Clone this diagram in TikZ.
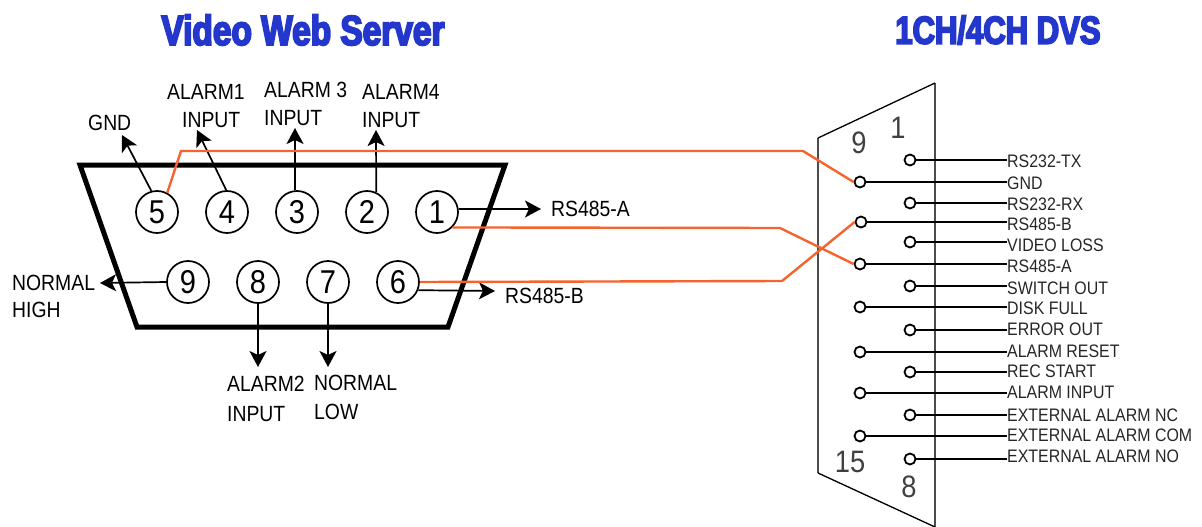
\documentclass[tikz,border=0pt]{standalone}
\usepackage{fontspec}
\usetikzlibrary{arrows.meta}
\setmainfont{Liberation Sans}
\newfontfamily\lblfont[FakeStretch=0.88]{Liberation Sans}
\newfontfamily\ttlfont[FakeStretch=0.796,FakeBold=4.5]{Liberation Sans Bold}
\definecolor{ttlblue}{RGB}{35,55,205}
\definecolor{wire}{RGB}{245,100,45}
\tikzset{
  pinA/.style={circle,draw,line width=1.7pt,minimum size=42pt,inner sep=0pt,font=\fontsize{33}{33}\selectfont\lblfont},
  pinB/.style={circle,draw,line width=1.8pt,minimum size=11pt,inner sep=0pt},
  lblA/.style={anchor=west,inner sep=0pt,font=\fontsize{22}{22}\selectfont\lblfont},
  lblB/.style={anchor=west,inner sep=0pt,text=black!85,font=\fontsize{18.1}{18.1}\selectfont\lblfont},
  numB/.style={text=black!75,font=\fontsize{31}{31}\selectfont\lblfont},
  ttl/.style={text=ttlblue,font=\fontsize{42}{42}\selectfont\ttlfont},
  sig/.style={-{Stealth[inset=4pt,length=16pt,width=17pt]},line width=1.7pt},
  rwire/.style={wire,line width=2.4pt},
  bwire/.style={line width=1.5pt}
}
\begin{document}
\begin{tikzpicture}[x=1pt,y=-1pt]
            \useasboundingbox (0,0) rectangle (1202,527);
            \node[ttl] (web) at (303,30) {Video Web Server};
            \node[ttl,font=\fontsize{39}{39}\selectfont\ttlfont] (dvs) at (998,30) {1CH/4CH DVS};

            % left connector
            \draw[line width=5pt] (80,165) -- (505,165) -- (448,327) -- (137,327) -- cycle;
            \node[pinA] (p5) at (157,212) {5};
            \node[pinA] (p4) at (227,212) {4};
            \node[pinA] (p3) at (297,212) {3};
            \node[pinA] (p2) at (367,212) {2};
            \node[pinA] (p1) at (437,212) {1};
            \node[pinA] (p9) at (188,282) {9};
            \node[pinA] (p8) at (258,282) {8};
            \node[pinA] (p7) at (328,282) {7};
            \node[pinA] (p6) at (398,282) {6};

            \node[lblA] (gnd)  at (88,123)  {GND};
            \node[lblA] (al1)  at (167,92)  {ALARM1};
            \node[lblA] (in1)  at (182,120) {INPUT};
            \node[lblA] (al3)  at (264,90)  {ALARM 3};
            \node[lblA] (in3)  at (264,118) {INPUT};
            \node[lblA] (al4)  at (362,92)  {ALARM4};
            \node[lblA] (in4)  at (362,120) {INPUT};
            \node[lblA] (rsa)  at (551,209) {RS485-A};
            \node[lblA] (rsb)  at (505,296) {RS485-B};
            \node[lblA] (nhi)  at (12,283)  {NORMAL};
            \node[lblA] (hig)  at (12,310)  {HIGH};
            \node[lblA] (al2)  at (227,384) {ALARM2};
            \node[lblA] (in2)  at (227,414) {INPUT};
            \node[lblA] (nlo)  at (314,383) {NORMAL};
            \node[lblA] (low)  at (314,412) {LOW};

            \coordinate (t5) at (122,135);
            \coordinate (t4) at (197,130);
            \coordinate (t3) at (295,128);
            \coordinate (t2) at (376,130);
            \coordinate (t1) at (541,209);
            \coordinate (t6) at (495,291);
            \coordinate (t9) at (100,283);
            \coordinate (t8) at (258,367);
            \coordinate (t7) at (328,367);

            \draw[sig] (p5.105) -- (t5);
            \draw[sig] (p4.92) -- (t4);
            \draw[sig] (p3.95) -- (t3);
            \draw[sig] (p2.65) -- (t2);
            \draw[sig] (p1.8) -- (t1);
            \draw[sig] (p6.-22) -- (t6);
            \draw[sig] (p9.west) -- (t9);
            \draw[sig] (p8.south) -- (t8);
            \draw[sig] (p7.south) -- (t7);

            % right connector
            \draw[black!70,line width=2pt] (818,138) -- (818,473);
            \draw[black!70,line width=2pt] (935,83) -- (935,527);
            \draw[line width=1.3pt] (818,138) -- (935,83);
            \draw[line width=1.3pt] (818,473) -- (935,527);
            \node[numB] (n9)  at (859,143) {9};
            \node[numB] (n1)  at (898,128) {1};
            \node[numB] (n15) at (850,462) {15};
            \node[numB] (n8)  at (909,487) {8};

            \node[pinB] (s1)  at (910,160) {};
            \node[pinB] (s9)  at (860,182) {};
            \node[pinB] (s2)  at (910,203) {};
            \node[pinB] (s10) at (861,222) {};
            \node[pinB] (s3)  at (910,242) {};
            \node[pinB] (s11) at (860,264) {};
            \node[pinB] (s4)  at (910,286) {};
            \node[pinB] (s12) at (860,307) {};
            \node[pinB] (s5)  at (910,330) {};
            \node[pinB] (s13) at (860,352) {};
            \node[pinB] (s6)  at (910,372) {};
            \node[pinB] (s14) at (860,393) {};
            \node[pinB] (s7)  at (910,415) {};
            \node[pinB] (s15) at (860,436) {};
            \node[pinB] (s8)  at (910,459) {};

            \node[lblB] (l1)  at (1007,161) {RS232-TX};
            \node[lblB] (l9)  at (1007,183) {GND};
            \node[lblB] (l2)  at (1007,204) {RS232-RX};
            \node[lblB] (l10) at (1007,224) {RS485-B};
            \node[lblB] (l3)  at (1007,245) {VIDEO LOSS};
            \node[lblB] (l11) at (1007,266) {RS485-A};
            \node[lblB] (l4)  at (1007,288) {SWITCH OUT};
            \node[lblB] (l12) at (1007,308) {DISK FULL};
            \node[lblB] (l5)  at (1007,329) {ERROR OUT};
            \node[lblB] (l13) at (1007,351) {ALARM RESET};
            \node[lblB] (l6)  at (1007,371) {REC START};
            \node[lblB] (l14) at (1007,392) {ALARM INPUT};
            \node[lblB] (l7)  at (1007,415) {EXTERNAL ALARM NC};
            \node[lblB] (l15) at (1007,435) {EXTERNAL ALARM COM};
            \node[lblB] (l8)  at (1007,456) {EXTERNAL ALARM NO};

            \draw[bwire] (s1.east) -- (s1 -| l1.west);
            \draw[bwire] (s9.east) -- (s9 -| l9.west);
            \draw[bwire] (s2.east) -- (s2 -| l2.west);
            \draw[bwire] (s10.east) -- (s10 -| l10.west);
            \draw[bwire] (s3.east) -- (s3 -| l3.west);
            \draw[bwire] (s11.east) -- (s11 -| l11.west);
            \draw[bwire] (s4.east) -- (s4 -| l4.west);
            \draw[bwire] (s12.east) -- (s12 -| l12.west);
            \draw[bwire] (s5.east) -- (s5 -| l5.west);
            \draw[bwire] (s13.east) -- (s13 -| l13.west);
            \draw[bwire] (s6.east) -- (s6 -| l6.west);
            \draw[bwire] (s14.east) -- (s14 -| l14.west);
            \draw[bwire] (s7.east) -- (s7 -| l7.west);
            \draw[bwire] (s15.east) -- (s15 -| l15.west);
            \draw[bwire] (s8.east) -- (s8 -| l8.west);

            % orange wires
            \draw[rwire] (p5.62) -- (181,151) -- (803,151) -- (s9.west);
            \draw[rwire] (p1.-45) -- (780,228) -- (s11.west);
            \draw[rwire] (p6.east) -- (782,281) -- (s10.west);
        \end{tikzpicture}
\end{document}
